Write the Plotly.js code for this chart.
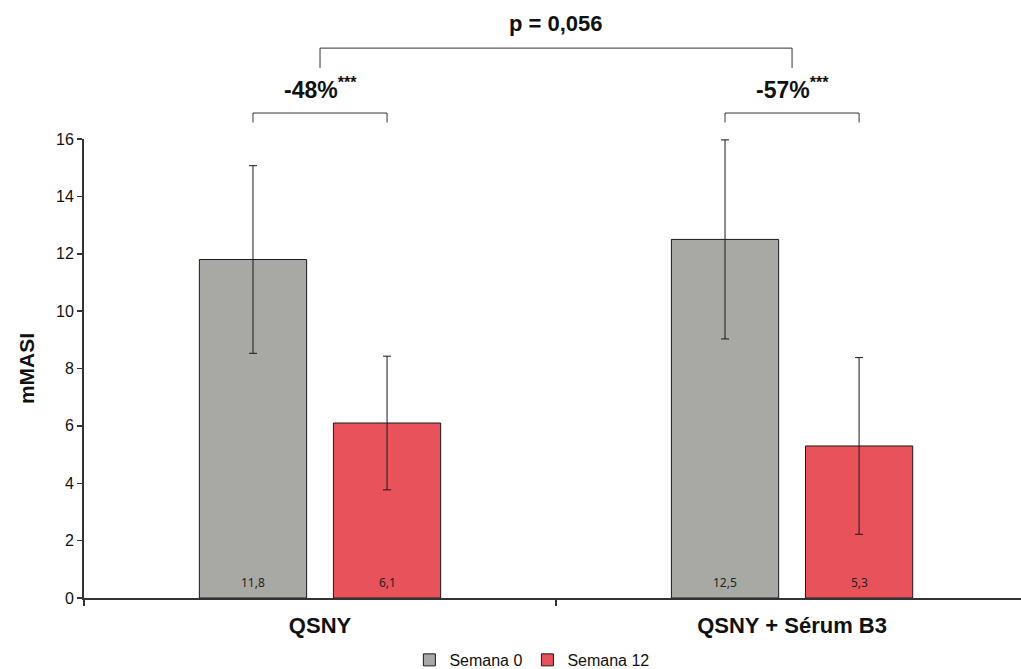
<!DOCTYPE html>
<html>
<head>
<meta charset="utf-8">
<script src="https://cdn.plot.ly/plotly-3.0.1.min.js"></script>
<style>html,body{margin:0;padding:0;background:#fff;overflow:hidden;}#chart{width:1021px;height:669px;}</style>
</head>
<body>
<div id="chart"></div>
<script>
const categories = ["QSNY", "QSNY + Sérum B3"];
const seriesNames = ["Semana 0", "Semana 12"];
const semana0 = [11.8, 12.5];
const semana12 = [6.1, 5.3];
const semana0Err = [3.27, 3.47];
const semana12Err = [2.33, 3.08];
const semana0Labels = ["11,8", "12,5"];
const semana12Labels = ["6,1", "5,3"];
const changeLabels = ["-48%<sup>***</sup>", "-57%<sup>***</sup>"];
const pLabel = "p = 0,056";
const yTicks = [0, 2, 4, 6, 8, 10, 12, 14, 16];

const font = "Liberation Sans, Arial, sans-serif";

const traces = [
  {
    type: "bar", name: seriesNames[0], x: categories, y: semana0,
    marker: {color: "#a8a8a4", line: {color: "#1a1a1a", width: 1}},
    error_y: {type: "data", array: semana0Err, visible: true, color: "#1a1a1a", thickness: 1, width: 4},
    hoverinfo: "none"
  },
  {
    type: "bar", name: seriesNames[1], x: categories, y: semana12,
    marker: {color: "#e8535b", line: {color: "#1a1a1a", width: 1}},
    error_y: {type: "data", array: semana12Err, visible: true, color: "#1a1a1a", thickness: 1, width: 4},
    hoverinfo: "none"
  }
];

const off = 0.142;
const shapes = [];
const annotations = [];
function bracket(x0, x1, yTop, yBot) {
  const ln = {color: "#333", width: 1};
  return [
    {type: "line", xref: "x", yref: "paper", x0: x0, x1: x0, y0: yBot, y1: yTop, line: ln},
    {type: "line", xref: "x", yref: "paper", x0: x0, x1: x1, y0: yTop, y1: yTop, line: ln},
    {type: "line", xref: "x", yref: "paper", x0: x1, x1: x1, y0: yBot, y1: yTop, line: ln}
  ];
}
const valFont = {family: "Noto Sans, sans-serif", size: 12, color: "#222"};
categories.forEach((c, i) => {
  shapes.push(...bracket(i - off, i + off, 1.0566, 1.036));
  annotations.push({
    xref: "x", yref: "paper", x: i, y: 1.112, text: "<b>" + changeLabels[i] + "</b>",
    showarrow: false, font: {family: font, size: 23, color: "#111"}, yanchor: "middle"
  });
  annotations.push({xref: "x", yref: "y", x: i - off, y: 0, yanchor: "bottom", yshift: 5,
    text: semana0Labels[i], showarrow: false, font: valFont});
  annotations.push({xref: "x", yref: "y", x: i + off, y: 0, yanchor: "bottom", yshift: 5,
    text: semana12Labels[i], showarrow: false, font: valFont});
});
shapes.push(...bracket(0, 1, 1.198, 1.155));
annotations.push({
  xref: "x", yref: "paper", x: 0.5, y: 1.252, text: "<b>" + pLabel + "</b>",
  showarrow: false, font: {family: font, size: 22, color: "#111"}, yanchor: "middle"
});

const layout = {
  width: 1021, height: 669,
  margin: {l: 84, r: 0, t: 139, b: 71, autoexpand: false},
  paper_bgcolor: "#fff", plot_bgcolor: "#fff",
  barmode: "group", bargap: 0.432, bargroupgap: 0.2,
  showlegend: true,
  legend: {orientation: "h", x: 0.478, xanchor: "center", y: -0.135, yanchor: "middle",
    font: {family: font, size: 16, color: "#111"}, itemwidth: 30, traceorder: "normal"},
  xaxis: {
    type: "category", range: [-0.5, 1.485], showline: true, linecolor: "#333", linewidth: 2,
    ticks: "outside", tickson: "boundaries", ticklen: 6, tickcolor: "#333", tickwidth: 2,
    ticklabelstandoff: 7,
    tickfont: {family: font, size: 22, color: "#111"}, showgrid: false, zeroline: false,
    tickprefix: "<b>", ticksuffix: "</b>"
  },
  yaxis: {
    range: [0, 16], tickvals: yTicks, ticktext: yTicks.map(String),
    showline: true, linecolor: "#333", linewidth: 2,
    ticks: "outside", ticklen: 5, tickcolor: "#333", tickwidth: 1.5,
    tickfont: {family: font, size: 16, color: "#111"},
    showgrid: false, zeroline: false,
    title: {text: "<b>mMASI</b>", font: {family: font, size: 21, color: "#111"}, standoff: 16}
  },
  shapes: shapes, annotations: annotations
};

Plotly.newPlot("chart", traces, layout, {displayModeBar: false, staticPlot: true});
</script>
</body>
</html>
